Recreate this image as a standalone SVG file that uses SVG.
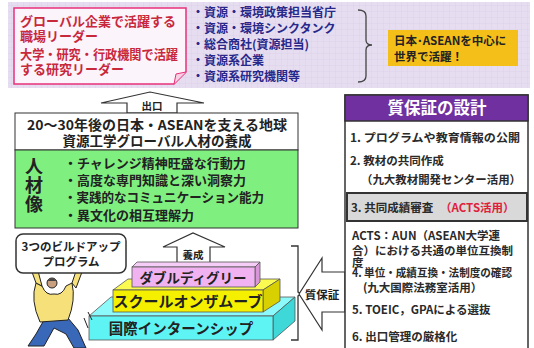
<svg xmlns="http://www.w3.org/2000/svg" width="534" height="348" viewBox="0 0 534 348">
<defs>
<pattern id="grid" width="6" height="6" patternUnits="userSpaceOnUse">
<rect width="6" height="6" fill="#e6ddf0"/>
<path d="M6 0V6M0 6H6" stroke="#d8cce8" stroke-width="0.6" fill="none"/>
</pattern>
<style>
text{font-family:"Noto Sans CJK JP","Noto Sans",sans-serif;font-weight:bold}
.red{fill:#c8283c;font-size:13px}
.blue{fill:#28288a;font-size:12px}
.dk{fill:#222}
.rp{fill:#2a2a2a;font-size:11.5px}
.box{stroke:#333;stroke-width:1}
.face{stroke:#555;stroke-width:0.8}
</style>
</defs>
<rect width="534" height="348" fill="#fff"/>

<g id="top-band">
<rect x="8" y="2" width="522" height="86" fill="url(#grid)"/>
</g>

<g id="leader-note">
<path d="M14 8H186V72L174 84H14Z" fill="#fbf4fb" stroke="#e8307a" stroke-width="1.5"/>
<path d="M186 72L176 74L174 84" fill="#f8d0e4" stroke="#e8307a" stroke-width="1"/>
<text class="red" x="20" y="26" textLength="156" lengthAdjust="spacingAndGlyphs">グローバル企業で活躍する</text>
<text class="red" x="20" y="41">職場リーダー</text>
<text class="red" x="20" y="59" textLength="158" lengthAdjust="spacingAndGlyphs">大学・研究・行政機関で活躍</text>
<text class="red" x="20" y="74">する研究リーダー</text>
</g>

<g id="career-list">
<text class="blue" x="192" y="17">・資源・環境政策担当省庁</text>
<text class="blue" x="192" y="33">・資源・環境シンクタンク</text>
<text class="blue" x="192" y="49">・総合商社(資源担当)</text>
<text class="blue" x="192" y="65">・資源系企業</text>
<text class="blue" x="192" y="81">・資源系研究機関等</text>
<path d="M358 10Q366 10 366 16V40Q366 45 372 45Q366 45 366 50V76Q366 82 358 82" fill="none" stroke="#444" stroke-width="1.3"/>
</g>

<g id="world-box">
<rect x="388" y="30" width="130" height="36" fill="#f5bf1a"/>
<text class="dk" x="394" y="45" font-size="11.5">日本･ASEANを中心に</text>
<text class="dk" x="394" y="61" font-size="11.5">世界で活躍！</text>
</g>

<g id="connectors">
<path d="M127 113V103H101L150 92L204 103H177V113Z" fill="#fff" stroke="#333" stroke-width="1.2"/>
<text class="dk" x="152" y="110" font-size="10.5" text-anchor="middle">出口</text>
<path d="M177 263V247H163L193 233L225 247H210V263Z" fill="#fff" stroke="#333" stroke-width="1.2"/>
<text class="dk" x="193" y="259" font-size="10.5" text-anchor="middle">養成</text>
<path d="M291 246H298V292L302 294L298 296V340H291" fill="none" stroke="#333" stroke-width="1.3"/>
<path d="M345 272H322V258L299 294L322 330V312H345Z" fill="#fff" stroke="#333" stroke-width="1.2"/>
<text class="dk" x="322" y="299" font-size="11.5" text-anchor="middle">質保証</text>
</g>

<g id="goal-box">
<rect class="box" x="15" y="113" width="283" height="37" fill="#fff"/>
<text class="dk" x="157" y="130" font-size="13.5" text-anchor="middle" textLength="260" lengthAdjust="spacingAndGlyphs">20～30年後の日本・ASEANを支える地球</text>
<text class="dk" x="157" y="146" font-size="13.5" text-anchor="middle">資源工学グローバル人材の養成</text>
</g>

<g id="talent-box">
<rect class="box" x="15" y="150" width="283" height="78" fill="#7ff07f"/>
<text class="dk" x="34" y="157" font-size="18" writing-mode="vertical-rl" letter-spacing="1">人材像</text>
<text class="dk" x="64" y="168" font-size="13">・チャレンジ精神旺盛な行動力</text>
<text class="dk" x="64" y="185" font-size="13">・高度な専門知識と深い洞察力</text>
<text class="dk" x="64" y="202" font-size="13" textLength="200" lengthAdjust="spacingAndGlyphs">・実践的なコミュニケーション能力</text>
<text class="dk" x="64" y="220" font-size="13">・異文化の相互理解力</text>
</g>

<g id="quality-panel">
<rect x="345" y="95" width="183" height="260" fill="#fff" stroke="#333" stroke-width="1.5"/>
<rect x="345" y="95" width="183" height="26" fill="#7030a0" stroke="#333" stroke-width="1.5"/>
<text x="437" y="114" font-size="16.5" fill="#fff" text-anchor="middle">質保証の設計</text>
<text class="rp" x="350" y="142" textLength="170" lengthAdjust="spacingAndGlyphs">1. プログラムや教育情報の公開</text>
<text class="rp" x="350" y="165">2. 教材の共同作成</text>
<text class="rp" x="361" y="184" textLength="160" lengthAdjust="spacingAndGlyphs">（九大教材開発センター活用）</text>
<rect x="347" y="193" width="180" height="28" fill="#d9d9d9" stroke="#333" stroke-width="2"/>
<text class="rp" x="351" y="212">3. 共同成績審査</text>
<text x="440" y="212" font-size="11.5" fill="#e0203a">（ACTS活用）</text>
<text class="rp" x="352" y="240">ACTS：AUN（ASEAN大学連</text>
<text class="rp" x="352" y="255">合）における共通の単位互換制</text>
<text class="rp" x="352" y="267">度</text>
<text class="rp" x="352" y="277" textLength="160" lengthAdjust="spacingAndGlyphs">4. 単位・成績互換・法制度の確認</text>
<text class="rp" x="363" y="292">(九大国際法務室活用）</text>
<text class="rp" x="352" y="314">5. TOEIC，GPAによる選抜</text>
<text class="rp" x="352" y="341">6. 出口管理の厳格化</text>
</g>

<g id="pyramid-intern">
<path class="face" d="M89 316L111 297H295L273 316Z" fill="#8cfafa"/>
<path class="face" d="M273 316L295 297V321L273 340Z" fill="#3ed8d8"/>
<rect class="face" x="89" y="316" width="184" height="24" fill="#5ff4f4"/>
<text class="dk" x="181" y="334" font-size="14.5" text-anchor="middle">国際インターンシップ</text>
</g>

<g id="pyramid-school">
<path class="face" d="M113 290L128 279H280L263 290Z" fill="#fafa50"/>
<path class="face" d="M263 290L280 279V301L263 312Z" fill="#d8d000"/>
<rect class="face" x="113" y="290" width="150" height="22" fill="#f4f000"/>
<text class="dk" x="188" y="307" font-size="15" text-anchor="middle">スクールオンザムーブ</text>
</g>

<g id="pyramid-double">
<path class="face" d="M132 267L137 262H260L255 267Z" fill="#f6cdf6"/>
<path class="face" d="M255 267L260 262V282L255 287Z" fill="#d896d8"/>
<rect class="face" x="132" y="267" width="123" height="20" fill="#f0b2f0"/>
<text class="dk" x="193" y="283" font-size="13.5" text-anchor="middle">ダブルディグリー</text>
</g>

<g id="buildup-figure">
<path d="M44 320L36 334L28 346H44L54 328L66 334L74 348H86L78 330L68 318Z" fill="#3a68b8" stroke="#222" stroke-width="1"/>
<path d="M36 283Q30 300 40 322L68 320Q76 300 72 283L66 286Q62 296 54 294Q46 296 42 286Z" fill="#f5e07a" stroke="#222" stroke-width="1"/>
<path d="M36 283L32 272L38 271L42 286Z M72 283L76 271L82 272L76 288Z" fill="#f5e07a" stroke="#222" stroke-width="1"/>
<circle cx="52" cy="283" r="5" fill="#c8a080" stroke="#222" stroke-width="1"/>
<path d="M47 281Q52 276 57 281" fill="#444"/>
<path d="M84 318L88 328M88 312L92 320" stroke="#222" stroke-width="1"/>
<rect x="16" y="234" width="110" height="39" rx="7" fill="#fff" stroke="#333" stroke-width="1.5"/>
<text class="dk" x="71" y="251" font-size="11.5" text-anchor="middle">3つのビルドアップ</text>
<text class="dk" x="71" y="266" font-size="11.5" text-anchor="middle">プログラム</text>
</g>
</svg>
